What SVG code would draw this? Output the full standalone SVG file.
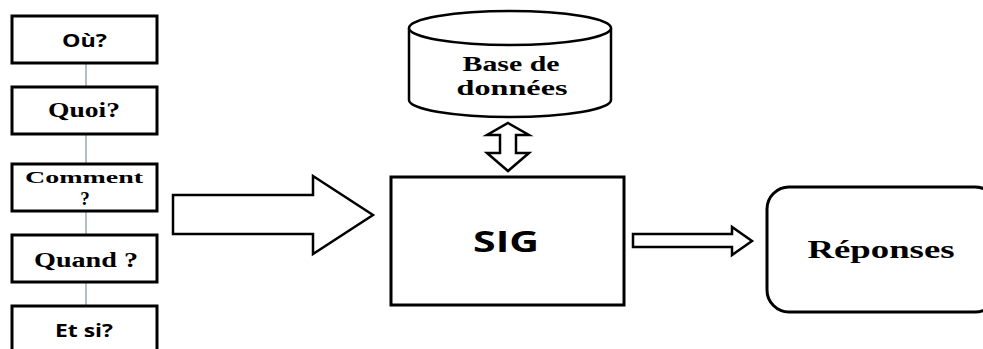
<svg xmlns="http://www.w3.org/2000/svg" width="983" height="349" viewBox="0 0 983 349">
  <style>
    .box { fill: #fff; stroke: #000; stroke-width: 3; }
    .shape { fill: #fff; stroke: #000; stroke-width: 2.5; stroke-linejoin: miter; }
    .link { stroke: #7f95a8; stroke-width: 1.2; fill: none; }
    .serif { font-family: "Liberation Serif", "Times New Roman", serif; font-weight: bold; fill: #000; text-anchor: middle; }
    .sans { font-family: "Open Sans", "Liberation Sans", sans-serif; font-weight: bold; fill: #000; text-anchor: middle; }
  </style>

  <!-- thin links between the question boxes -->
  <g id="connectors">
    <line class="link" x1="86" y1="63" x2="86" y2="87"/>
    <line class="link" x1="86" y1="134" x2="86" y2="164"/>
    <line class="link" x1="86" y1="211" x2="86" y2="235"/>
    <line class="link" x1="86" y1="282" x2="86" y2="306"/>
    <!-- block arrow: questions into SIG -->
    <path class="shape" d="M173,195 H313 V176 L373,215 L313,254 V234 H173 Z"/>
    <!-- two-way arrow between database and SIG -->
    <path class="shape" d="M508,123 L529,135 H516 V153 H529 L508,171 L487,153 H500 V135 H487 Z"/>
    <!-- arrow from SIG to answers -->
    <path class="shape" d="M633,234 H732 V227 L752,241 L732,255 V247 H633 Z"/>
  </g>

  <g id="q-ou">
    <rect class="box" x="12" y="16" width="145" height="47"/>
    <text class="sans" x="84.5" y="47" font-size="17.5" font-weight="600" textLength="45" lengthAdjust="spacingAndGlyphs">Où?</text>
  </g>
  <g id="q-quoi">
    <rect class="box" x="12" y="87" width="145" height="47"/>
    <text class="serif" x="84" y="117" font-size="20" textLength="72" lengthAdjust="spacingAndGlyphs">Quoi?</text>
  </g>
  <g id="q-comment">
    <rect class="box" x="12" y="164" width="145" height="47"/>
    <text class="serif" x="84" y="183" font-size="17" textLength="118" lengthAdjust="spacingAndGlyphs">Comment</text>
    <text class="serif" x="85" y="205" font-size="19" font-weight="normal">?</text>
  </g>
  <g id="q-quand">
    <rect class="box" x="12" y="235" width="145" height="47"/>
    <text class="serif" x="86" y="267" font-size="20" textLength="104" lengthAdjust="spacingAndGlyphs">Quand ?</text>
  </g>
  <g id="q-etsi">
    <rect class="box" x="12" y="306" width="145" height="47"/>
    <text class="sans" x="84" y="337" font-size="18" textLength="58" lengthAdjust="spacingAndGlyphs">Et si?</text>
  </g>

  <g id="database">
    <path class="shape" d="M409,28 V100 A101,17 0 0 0 611,100 V28"/>
    <ellipse class="shape" cx="510" cy="28" rx="101" ry="17"/>
    <text class="serif" x="511" y="71" font-size="21" textLength="97" lengthAdjust="spacingAndGlyphs">Base de</text>
    <text class="serif" x="512" y="95" font-size="21" textLength="111" lengthAdjust="spacingAndGlyphs">données</text>
  </g>

  <g id="sig">
    <rect class="box" x="391" y="177" width="233" height="128"/>
    <text class="sans" x="506" y="252" font-size="28" textLength="66" lengthAdjust="spacingAndGlyphs">SIG</text>
  </g>

  <g id="reponses">
    <rect class="box" x="767" y="187" width="230" height="125" rx="22" ry="22"/>
    <text class="serif" x="881" y="258" font-size="25" textLength="147" lengthAdjust="spacingAndGlyphs">Réponses</text>
  </g>
</svg>
